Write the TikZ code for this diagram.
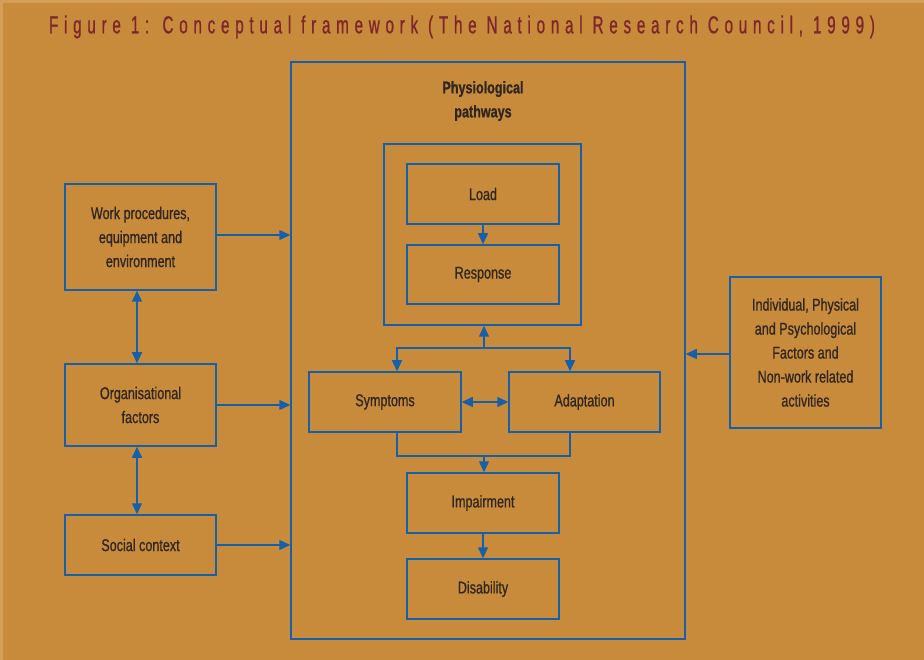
\documentclass[tikz,border=0pt]{standalone}
\usepackage{fontspec}
\setmainfont{Liberation Sans}[FakeStretch=0.74,FakeBold=0.8]
\usetikzlibrary{arrows.meta}
\definecolor{bg}{RGB}{199,139,59}
\definecolor{bgedge}{RGB}{212,158,86}
\definecolor{lineblue}{RGB}{22,96,170}
\definecolor{txt}{RGB}{48,38,30}
\definecolor{ttl}{RGB}{126,38,44}
\tikzset{
  box/.style={draw=lineblue, line width=1.5pt, inner sep=0pt, align=center,
    text=txt, font=\fontsize{17}{24}\selectfont},
  frame/.style={draw=lineblue, line width=1.5pt, inner sep=0pt},
  conn/.style={draw=lineblue, line width=1.5pt},
  arr/.style={conn, -{Triangle[length=11pt,width=10pt]}},
  darr/.style={conn, {Triangle[length=11pt,width=10pt]}-{Triangle[length=11pt,width=10pt]}}
}
\begin{document}
\begin{tikzpicture}[x=1pt,y=-1pt]
\useasboundingbox (0,0) rectangle (924,660);
\fill[bg] (0,0) rectangle (924,660);
\fill[bgedge] (0,0) rectangle (924,3);
\fill[bgedge] (0,0) rectangle (3,660);

\node[text=ttl, font=\fontsize{24.5}{28}\selectfont\addfontfeatures{FakeStretch=0.62,LetterSpace=23.5}] (title) at (462,27) {Figure 1: Conceptual framework (The National Research Council, 1999)};

% outer frames
\node[frame, minimum width=394pt, minimum height=577pt] (big) at (488,350.5) {};
\node[text=txt, align=center, font=\fontsize{17}{24}\selectfont\bfseries] (phys) at (483,101) {Physiological\\pathways};
\node[frame, minimum width=197pt, minimum height=181pt] (inner) at (482.5,234.5) {};

% inner nodes
\node[box, minimum width=152pt, minimum height=60pt] (load) at (483,194) {Load};
\node[box, minimum width=152pt, minimum height=59pt] (response) at (483,274.5) {Response};
\node[box, minimum width=152pt, minimum height=60pt] (symptoms) at (385,402) {Symptoms};
\node[box, minimum width=151pt, minimum height=60pt] (adaptation) at (584.5,402) {Adaptation};
\node[box, minimum width=152pt, minimum height=60pt] (impairment) at (483,503) {Impairment};
\node[box, minimum width=152pt, minimum height=60pt] (disability) at (483,589) {Disability};

% left nodes
\node[box, minimum width=151pt, minimum height=106pt] (work) at (140.5,237) {Work procedures,\\equipment and\\environment};
\node[box, minimum width=151pt, minimum height=82pt] (org) at (140.5,405) {Organisational\\factors};
\node[box, minimum width=151pt, minimum height=60pt] (social) at (140.5,545) {Social context};

% right node
\node[box, minimum width=151pt, minimum height=151pt] (indiv) at (805.5,352.5) {Individual, Physical\\and Psychological\\Factors and\\Non-work related\\activities};

% connectors
\coordinate (j) at (484,348);
\coordinate (k) at (484,456);
\draw[arr] (load.south) -- (response.north);
\draw[arr] (j) -- (j |- inner.south);
\draw[arr] (j) -| ([xshift=12pt]symptoms.north);
\draw[arr] (j) -| ([xshift=-14.5pt]adaptation.north);
\draw[darr] (symptoms.east) -- (adaptation.west);
\draw[conn] ([xshift=12pt]symptoms.south) |- (k) -| ([xshift=-14.5pt]adaptation.south);
\draw[arr] (k) -- (k |- impairment.north);
\draw[arr] (impairment.south) -- (disability.north);

\draw[arr] ([yshift=2pt]work.east) -- ([yshift=2pt]work.east -| big.west);
\draw[arr] (org.east) -- (org.east -| big.west);
\draw[arr] (social.east) -- (social.east -| big.west);
\draw[darr] ([xshift=-3.5pt]work.south) -- ([xshift=-3.5pt]org.north);
\draw[darr] ([xshift=-3.5pt]org.south) -- ([xshift=-3.5pt]social.north);
\draw[arr] ([yshift=-1.5pt]indiv.west) -- ([yshift=-1.5pt]indiv.west -| big.east);
\end{tikzpicture}
\end{document}
